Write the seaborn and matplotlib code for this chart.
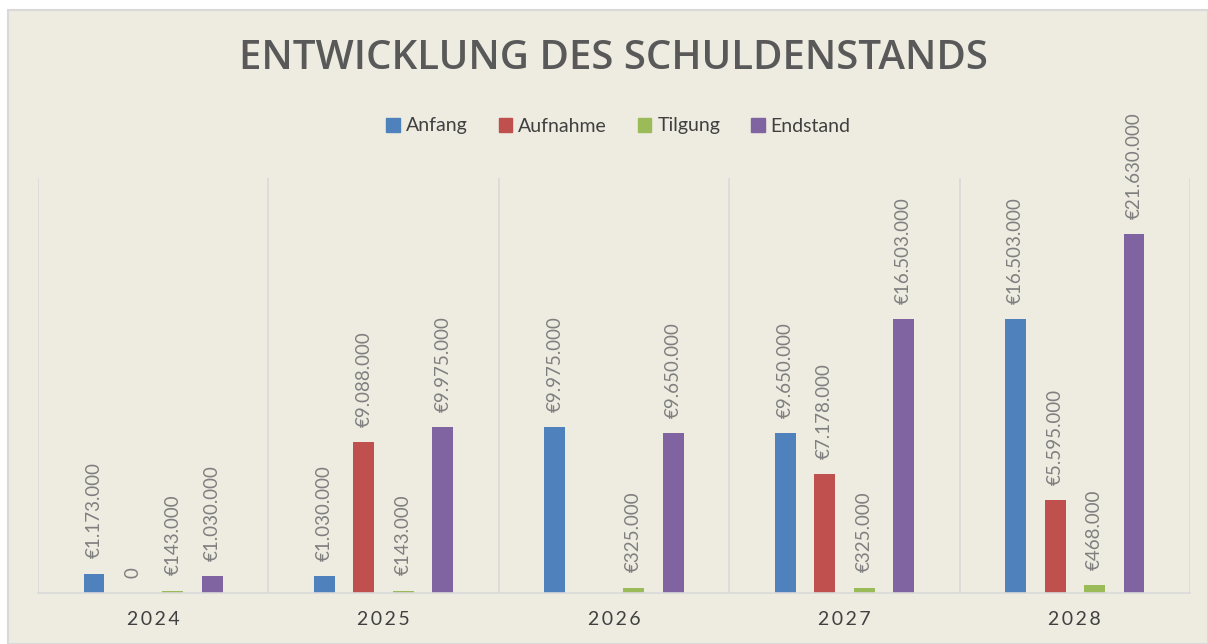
import numpy as np
import pandas as pd
import matplotlib
matplotlib.use("Agg")
import matplotlib.pyplot as plt
from matplotlib.patches import Rectangle
from matplotlib.ticker import FixedLocator
import seaborn as sns

# data
years = ["2024", "2025", "2026", "2027", "2028"]
series = ["Anfang", "Aufnahme", "Tilgung", "Endstand"]
anfang = [1173000, 1030000, 9975000, 9650000, 16503000]
aufnahme = [0, 9088000, 0, 7178000, 5595000]
tilgung = [143000, 143000, 325000, 325000, 468000]
endstand = [1030000, 9975000, 9650000, 16503000, 21630000]
# which bars carry a data label
show_label = {
    "Anfang": [True] * 5,
    "Aufnahme": [True, True, False, True, True],
    "Tilgung": [True] * 5,
    "Endstand": [True] * 5,
}
colors = ["#4F81BD", "#C0504D", "#9BBB59", "#8064A2"]
bg = "#EEECE1"

df = pd.DataFrame({
    "Jahr": years * 4,
    "Art": sum([[s] * 5 for s in series], []),
    "Wert": anfang + aufnahme + tilgung + endstand,
})

fig = plt.figure(figsize=(12.08, 6.44), dpi=100)
fig.patch.set_facecolor("white")
fig.patches.append(Rectangle((8 / 1208, 0), 1 - 8 / 1208, 1 - 10 / 644,
                             transform=fig.transFigure, facecolor=bg,
                             edgecolor="#D9D9D9", linewidth=1.5, zorder=-10))

ax = fig.add_axes([38 / 1208, 1 - 593 / 644, (1190 - 38) / 1208, (593 - 178) / 644])
ax.set_zorder(1)
ax.set_facecolor("none")

sns.barplot(data=df, x="Jahr", y="Wert", hue="Art", palette=colors,
            width=0.685, gap=0.47, ax=ax, legend=False, saturation=1)

ax.set_ylim(0, 25000000)
ax.set_xlim(-0.5, 4.5)
ax.set_yticks([])
ax.set_xlabel("")
ax.set_ylabel("")
for s in ["top", "right", "left"]:
    ax.spines[s].set_visible(False)
ax.spines["bottom"].set_color("#D9D9D9")
ax.spines["bottom"].set_linewidth(1.2)
ax.xaxis.set_minor_locator(FixedLocator(np.arange(-0.5, 5.0, 1.0)))
ax.grid(which="minor", axis="x", color="#D9D9D9", linewidth=1.2)
ax.tick_params(axis="x", which="both", length=0, pad=13)
ax.set_xticks(range(5))
# spaced-out digits like the original
ax.set_xticklabels(["\u2009".join(y) for y in years], fontsize=14,
                   color="#404040", family=["Lato", "DejaVu Sans"])


def fmt(v):
    if v == 0:
        return "0"
    return "€" + f"{v:,}".replace(",", ".")


for cont, name in zip(ax.containers, series):
    for i, bar in enumerate(cont):
        if not show_label[name][i]:
            continue
        v = bar.get_height()
        ax.annotate(fmt(int(round(v))), (bar.get_x() + bar.get_width() / 2, v),
                    xytext=(0, 11), textcoords="offset points",
                    rotation=90, ha="center", va="bottom",
                    fontsize=13.5, color="#7F7F7F", family="Lato")

fig.text(0.508, 1 - 59 / 644, "ENTWICKLUNG DES SCHULDENSTANDS", ha="center",
         va="center", fontsize=29, fontweight="semibold", color="#595959",
         family="Open Sans")

handles = [Rectangle((0, 0), 1, 1, color=c) for c in colors]
fig.legend(handles, series, loc="center", bbox_to_anchor=(0.512, 1 - 126 / 644),
           ncol=4, frameon=False, handlelength=0.7, handleheight=0.7,
           handletextpad=0.3, columnspacing=1.6,
           prop={"family": "Lato", "size": 14})
for t in fig.legends[0].get_texts():
    t.set_color("#404040")

fig.savefig("out.png", dpi=100, facecolor="white")
